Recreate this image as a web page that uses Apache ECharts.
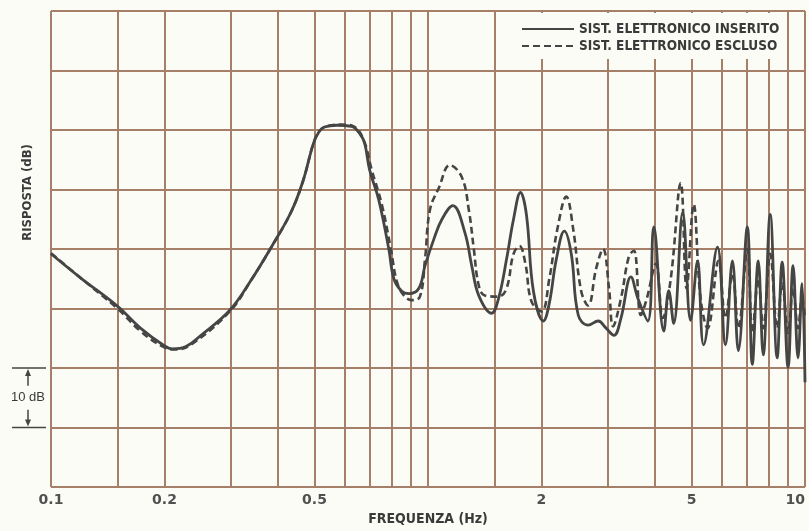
<!DOCTYPE html>
<html lang="it">
<head>
<meta charset="UTF-8">
<title>Risposta in frequenza</title>
<script src="https://cdn.jsdelivr.net/npm/echarts@6/dist/echarts.min.js"></script>
<style>
  html, body { margin: 0; padding: 0; background: #fcfcf6; }
  #chart { width: 809px; height: 531px; }
</style>
</head>
<body>
<div id="chart"></div>
<script>
// sistema elettronico inserito (linea continua)
var freqInserito = [0.1, 0.1195, 0.15, 0.1727, 0.198, 0.21, 0.228, 0.25, 0.298, 0.339, 0.384, 0.434, 0.467, 0.497,
  0.515, 0.531, 0.572, 0.627, 0.659, 0.679, 0.700, 0.740, 0.787, 0.812, 0.852, 0.890, 0.946, 0.982,
  1.037, 1.089, 1.164, 1.252, 1.306, 1.363, 1.475, 1.539, 1.616, 1.686, 1.759, 1.824, 1.904,
  2.024, 2.098, 2.19, 2.299, 2.399, 2.503, 2.66, 2.827, 2.967, 3.114, 3.25, 3.454, 3.604, 3.83,
  3.972, 4.221, 4.351, 4.484, 4.738, 4.973, 5.188, 5.383, 5.86, 6.151, 6.419, 6.657, 7.031,
  7.248, 7.516, 7.748, 8.085, 8.437, 8.698, 9.018, 9.296, 9.583, 9.82, 10];
var dbInserito = [-0.8, -4.8, -9.6, -13.3, -16.1, -16.8, -16.4, -14.5, -10.3, -5.3, 0.3, 6.3, 11.6, 17.8,
  19.8, 20.5, 20.8, 20.6, 19.4, 17.8, 13.3, 8.3, 0, -5.0, -7.1, -7.5, -6.6, -2.8,
  1.7, 5.0, 7.3, 2.8, -2.8, -7.8, -10.8, -8.3, -1.7, 5.0, 9.5, 5.8, -7.1,
  -12.1, -9.1, -1.7, 3.0, -0.8, -11.1, -12.8, -12.1, -13.3, -14.5, -11.6, -4.7, -8.3, -12.1,
  3.7, -13.8, -7.0, -12.5, 6.1, -12.0, -2.0, -16.1, 0.3, -16.1, -2.0, -17.1, 3.7,
  -19.4, -2.0, -17.8, 5.8, -18.3, -2.2, -19.9, -2.8, -18.3, -5.8, -22.4];

// sistema elettronico escluso (linea tratteggiata)
var freqEscluso = [0.1, 0.1195, 0.15, 0.1727, 0.198, 0.214, 0.235, 0.298, 0.339, 0.384, 0.434, 0.467, 0.497,
  0.515, 0.538, 0.590, 0.635, 0.675, 0.709, 0.754, 0.797, 0.827, 0.863, 0.906, 0.952, 0.982,
  1.012, 1.069, 1.143, 1.229, 1.283, 1.323, 1.363, 1.414, 1.539, 1.616, 1.686, 1.748, 1.813, 1.881,
  2.0, 2.098, 2.203, 2.327, 2.428, 2.549, 2.66, 2.792, 2.913, 3.021, 3.096, 3.25, 3.412, 3.518,
  3.67, 3.806, 4.021, 4.195, 4.405, 4.68, 4.853, 5.065, 5.284, 5.515, 5.896, 6.151, 6.419,
  6.657, 7.031, 7.248, 7.516, 7.748, 8.085, 8.437, 8.698, 9.018, 9.296, 9.583, 9.82, 10];
var dbEscluso = [-0.7, -4.8, -10.0, -13.8, -16.4, -16.9, -16.1, -10.5, -5.3, 0.3, 6.3, 11.6, 17.8,
  19.8, 20.6, 20.9, 20.6, 18.3, 13.3, 7.5, 0, -5.5, -7.8, -8.6, -8.0, -1.7,
  6.6, 10.3, 14.1, 12.1, 6.6, 0, -6.1, -7.8, -8.0, -6.6, -0.8, 0.5, -2.5, -8.8,
  -10.5, -5.0, 3.3, 8.8, 3.3, -7.1, -9.5, -3.3, 0, -6.6, -13.0, -8.3, -1.2, -0.3,
  -11.1, -8.3, -2.5, -11.6, -5.0, 11.1, -6.6, 7.5, -8.3, -13.3, -2.0, -11.6, -4.2,
  -13.3, 0, -14.1, -5.0, -13.3, -0.8, -13.3, -5.8, -14.1, -6.6, -13.3, -8.3, -11.6];

// reticolo logaritmico e etichette
var gridFreqs = [0.1, 0.15, 0.2, 0.3, 0.4, 0.5, 0.6, 0.7, 0.8, 0.9, 1,
  1.5, 2, 3, 4, 5, 6, 7, 8, 9, 10];
var tickFreqs = [0.1, 0.2, 0.5, 2, 5, 10];
var tickLabels = ['0.1', '0.2', '0.5', '2', '5', '10'];

var nameInserito = 'SIST. ELETTRONICO INSERITO';
var nameEscluso = 'SIST. ELETTRONICO ESCLUSO';

var gridColor = '#a57f68';
var inkColor = '#454545';
var narrow = "'Liberation Sans Narrow', 'DejaVu Sans Condensed', 'Liberation Sans', sans-serif";

function zip(xs, ys) {
  var out = [];
  for (var i = 0; i < xs.length; i++) out.push([xs[i], ys[i]]);
  return out;
}

var myChart = echarts.init(document.getElementById('chart'), null, { renderer: 'canvas' });

var option = {
  animation: false,
  backgroundColor: '#fcfcf6',
  grid: { left: 51, right: 4, top: 11, bottom: 38 },
  legend: {
    data: [nameInserito, nameEscluso],
    orient: 'vertical',
    left: 515,
    top: 13,
    padding: [9, 6, 6, 6],
    itemWidth: 52,
    itemHeight: 14,
    itemGap: 3,
    backgroundColor: '#fcfcf6',
    selectedMode: false,
    itemStyle: { color: 'transparent', borderWidth: 0, opacity: 0 },
    textStyle: { fontFamily: narrow, fontWeight: 'bold', fontSize: 13.5, color: '#3a3a3a' }
  },
  xAxis: {
    type: 'log',
    logBase: 10,
    min: 0.1,
    max: 10,
    axisLine: { show: false },
    axisTick: { show: false },
    splitLine: { show: false },
    axisLabel: {
      customValues: tickFreqs,
      margin: 6,
      alignMaxLabel: 'right',
      fontFamily: "'DejaVu Sans', sans-serif",
      fontWeight: 'bold',
      fontSize: 14,
      color: '#505050',
      formatter: function (v) {
        for (var i = 0; i < tickFreqs.length; i++) {
          if (Math.abs(Math.log10(v) - Math.log10(tickFreqs[i])) < 0.01) return tickLabels[i];
        }
        return '';
      }
    },
    name: 'FREQUENZA (Hz)',
    nameLocation: 'middle',
    nameGap: 25,
    nameTextStyle: { fontFamily: narrow, fontWeight: 'bold', fontSize: 14, color: '#3a3a3a' }
  },
  yAxis: {
    type: 'value',
    min: -40,
    max: 40,
    interval: 10,
    axisLine: { show: false },
    axisTick: { show: false },
    axisLabel: { show: false },
    splitLine: { show: true, lineStyle: { color: gridColor, width: 2 } }
  },
  series: [
    {
      name: 'reticolo',
      type: 'line',
      data: [],
      z: 1,
      silent: true,
      markLine: {
        z: 1,
        silent: true,
        symbol: 'none',
        label: { show: false },
        emphasis: { disabled: true },
        lineStyle: { color: gridColor, width: 2, type: 'solid' },
        data: gridFreqs.map(function (f) { return { xAxis: f }; })
      }
    },
    {
      name: nameEscluso,
      type: 'line',
      data: zip(freqEscluso, dbEscluso),
      showSymbol: false,
      symbol: 'none',
      smooth: 0.4,
      z: 3,
      lineStyle: { color: inkColor, width: 2.6, type: [7, 4] },
      itemStyle: { color: inkColor }
    },
    {
      name: nameInserito,
      type: 'line',
      data: zip(freqInserito, dbInserito),
      showSymbol: false,
      symbol: 'none',
      smooth: 0.4,
      z: 4,
      lineStyle: { color: inkColor, width: 2.8, type: 'solid' },
      itemStyle: { color: inkColor }
    }
  ]
};

myChart.setOption(option);

// scala "10 dB" a sinistra, posizionata con l'asse
var yTop = myChart.convertToPixel({ yAxisIndex: 0 }, -20);
var yBot = myChart.convertToPixel({ yAxisIndex: 0 }, -30);
var ax = 28;
var yMid = (yTop + yBot) / 2;
var annoStyle = { stroke: inkColor, lineWidth: 1.5 };

myChart.setOption({
  graphic: [
    {
      type: 'text', x: 28, y: myChart.convertToPixel({ yAxisIndex: 0 }, 9.5), rotation: Math.PI / 2,
      style: { text: 'RISPOSTA (dB)', fill: '#3a3a3a', font: 'bold 13px ' + narrow, align: 'center', verticalAlign: 'middle' }
    },
    { type: 'line', shape: { x1: 12, y1: yTop, x2: 46, y2: yTop }, style: annoStyle },
    { type: 'line', shape: { x1: 12, y1: yBot, x2: 46, y2: yBot }, style: annoStyle },
    { type: 'line', shape: { x1: ax, y1: yMid - 12, x2: ax, y2: yTop + 4 }, style: annoStyle },
    { type: 'line', shape: { x1: ax, y1: yMid + 12, x2: ax, y2: yBot - 4 }, style: annoStyle },
    { type: 'polygon', shape: { points: [[ax, yTop + 1], [ax - 3, yTop + 8], [ax + 3, yTop + 8]] }, style: { fill: inkColor } },
    { type: 'polygon', shape: { points: [[ax, yBot - 1], [ax - 3, yBot - 8], [ax + 3, yBot - 8]] }, style: { fill: inkColor } },
    {
      type: 'text', x: ax, y: yMid,
      style: { text: '10 dB', fill: '#3a3a3a', font: '13px Liberation Sans, sans-serif', align: 'center', verticalAlign: 'middle', backgroundColor: '#fcfcf6' }
    }
  ]
});
</script>
</body>
</html>
